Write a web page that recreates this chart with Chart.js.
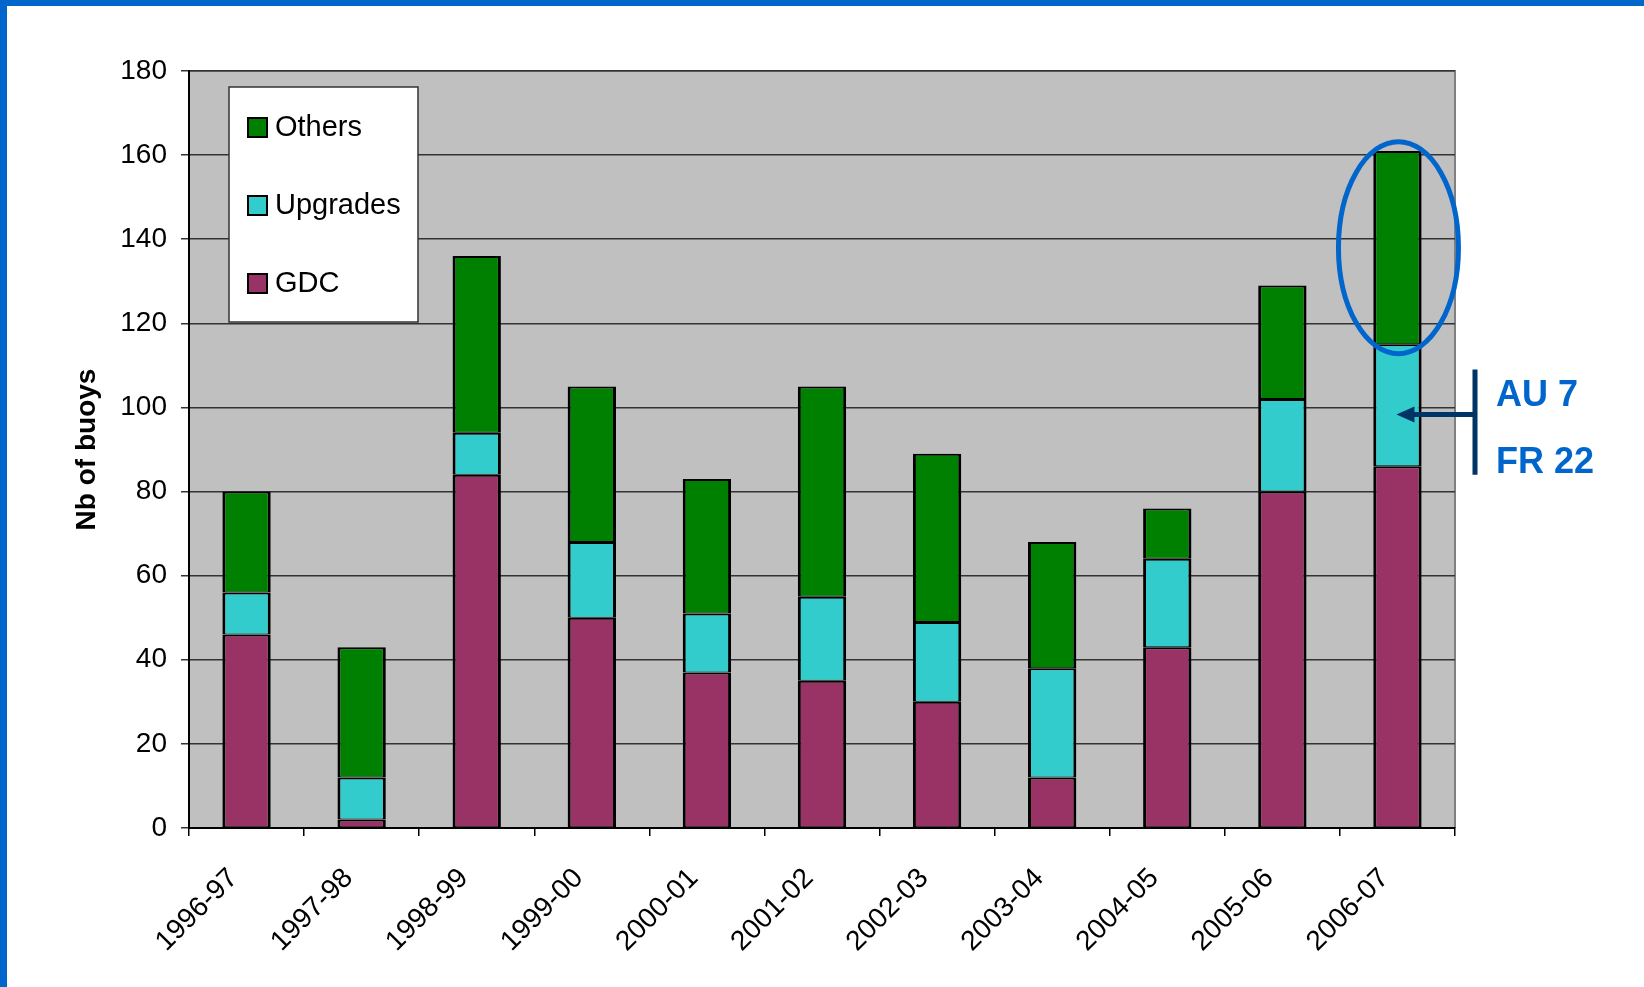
<!DOCTYPE html>
<html>
<head>
<meta charset="utf-8">
<title>Nb of buoys</title>
<script src="https://cdn.jsdelivr.net/npm/chart.js@4.4.1/dist/chart.umd.min.js"></script>
<style>
  html, body { margin: 0; padding: 0; background: #fff; }
  #wrap { position: relative; width: 1644px; height: 987px; overflow: hidden; }
  #wrap canvas { position: absolute; left: 0; top: 0; }
  .edge { position: absolute; background: #0066cc; z-index: 2; }
  #edgeTop { left: 0; top: 0; width: 1644px; height: 6px; }
  #edgeLeft { left: 0; top: 0; width: 7px; height: 987px; }
</style>
</head>
<body>
<div id="wrap">
  <canvas id="myChart" width="1644" height="987"></canvas>
  <div class="edge" id="edgeTop"></div>
  <div class="edge" id="edgeLeft"></div>
</div>
<script>
// Seasons on the x axis
var seasons = ['1996-97', '1997-98', '1998-99', '1999-00', '2000-01', '2001-02',
  '2002-03', '2003-04', '2004-05', '2005-06', '2006-07'];

// Buoys per season, stacked bottom to top
var gdc      = [46, 2, 84, 50, 37, 35, 30, 12, 43, 80, 86];
var upgrades = [10, 10, 10, 18, 14, 20, 19, 26, 21, 22, 29];
var others   = [24, 31, 42, 37, 32, 50, 40, 30, 12, 27, 46];

// Upgrades split for the last season
var upgradeNotes = ['AU 7', 'FR 22'];

var yTicks = { min: 0, max: 180, step: 20 };

var fontFamily = '"Liberation Sans", Arial, sans-serif';

// grey plot area with a grey frame on the top and right
var plotBackground = {
  id: 'plotBackground',
  beforeDraw: function (chart) {
    var a = chart.chartArea, ctx = chart.ctx;
    ctx.save();
    ctx.fillStyle = '#c0c0c0';
    ctx.fillRect(a.left, a.top, a.right - a.left, a.bottom - a.top);
    ctx.strokeStyle = '#808080';
    ctx.lineWidth = 2;
    ctx.beginPath();
    ctx.moveTo(a.left, a.top);
    ctx.lineTo(a.right, a.top);
    ctx.lineTo(a.right, a.bottom);
    ctx.stroke();
    ctx.restore();
  }
};

// legend box inside the plot, top series first
var boxLegend = {
  id: 'boxLegend',
  afterDatasetsDraw: function (chart) {
    var a = chart.chartArea, ctx = chart.ctx;
    var x = a.left + 40, y = a.top + 16, w = 189, h = 235;
    ctx.save();
    ctx.fillStyle = '#fff';
    ctx.fillRect(x, y, w, h);
    ctx.strokeStyle = '#333';
    ctx.lineWidth = 1.5;
    ctx.strokeRect(x, y, w, h);
    var sets = chart.data.datasets.slice().reverse();
    ctx.font = '29px ' + fontFamily;
    ctx.textBaseline = 'middle';
    ctx.textAlign = 'left';
    sets.forEach(function (ds, i) {
      var cy = y + 40 + i * 78;
      ctx.fillStyle = ds.backgroundColor;
      ctx.fillRect(x + 19, cy - 9, 19, 19);
      ctx.strokeStyle = '#000';
      ctx.lineWidth = 2;
      ctx.strokeRect(x + 19, cy - 9, 19, 19);
      ctx.fillStyle = '#000';
      ctx.fillText(ds.label, x + 46, cy + 1);
    });
    ctx.restore();
  }
};

// ellipse round the last "Others" block and the upgrade split on the right
var lastSeasonNote = {
  id: 'lastSeasonNote',
  afterDatasetsDraw: function (chart) {
    var ctx = chart.ctx, a = chart.chartArea, yScale = chart.scales.y;
    var last = seasons.length - 1;
    var top = chart.getDatasetMeta(2).data[last];
    var mid = chart.getDatasetMeta(1).data[last];
    ctx.save();
    ctx.strokeStyle = '#0066cc';
    ctx.lineWidth = 5;
    ctx.beginPath();
    ctx.ellipse(top.x + 1, (top.y + top.base) / 2, 60, 106, 0, 0, Math.PI * 2);
    ctx.stroke();

    var bx = a.right + 20;
    var y1 = yScale.getPixelForValue(109), y2 = yScale.getPixelForValue(84);
    var ay = yScale.getPixelForValue(98.3);
    ctx.strokeStyle = '#003366';
    ctx.fillStyle = '#003366';
    ctx.lineWidth = 5;
    ctx.beginPath();
    ctx.moveTo(bx, y1);
    ctx.lineTo(bx, y2);
    ctx.moveTo(bx, ay);
    ctx.lineTo(mid.x + 14, ay);
    ctx.stroke();
    ctx.beginPath();
    ctx.moveTo(mid.x - 1, ay);
    ctx.lineTo(mid.x + 17, ay - 8);
    ctx.lineTo(mid.x + 17, ay + 8);
    ctx.closePath();
    ctx.fill();

    ctx.fillStyle = '#0066cc';
    ctx.font = 'bold 36px ' + fontFamily;
    ctx.textAlign = 'left';
    ctx.textBaseline = 'alphabetic';
    ctx.fillText(upgradeNotes[0], bx + 21, y1 + 36);
    ctx.fillText(upgradeNotes[1], bx + 21, y1 + 103);
    ctx.restore();
  }
};

var ctx = document.getElementById('myChart').getContext('2d');

var myChart = new Chart(ctx, {
  type: 'bar',
  data: {
    labels: seasons,
    datasets: [
      { label: 'GDC', data: gdc, backgroundColor: '#993366' },
      { label: 'Upgrades', data: upgrades, backgroundColor: '#33cccc' },
      { label: 'Others', data: others, backgroundColor: '#008000' }
    ].map(function (ds) {
      ds.borderColor = '#000';
      ds.borderWidth = { left: 3, right: 3, top: 2, bottom: 1 };
      ds.borderSkipped = false;
      ds.categoryPercentage = 1;
      ds.barPercentage = 0.42;
      return ds;
    })
  },
  options: {
    responsive: false,
    animation: false,
    layout: { padding: { left: 0, top: 71, right: 189, bottom: 0 } },
    plugins: {
      legend: { display: false },
      tooltip: { enabled: false }
    },
    scales: {
      x: {
        stacked: true,
        grid: { drawOnChartArea: false, drawTicks: true, tickLength: 8, color: '#000', lineWidth: 1.5 },
        border: { display: true, color: '#000', width: 2 },
        ticks: {
          color: '#000',
          font: { family: fontFamily, size: 28 },
          maxRotation: 45,
          minRotation: 45,
          autoSkip: false,
          padding: 26,
          labelOffset: -13
        },
        afterFit: function (scale) { scale.height = 159; }
      },
      y: {
        stacked: true,
        min: yTicks.min,
        max: yTicks.max,
        grid: { color: '#333', lineWidth: 1.5, drawTicks: true, tickLength: 8 },
        border: { display: true, color: '#000', width: 2 },
        ticks: {
          stepSize: yTicks.step,
          color: '#000',
          font: { family: fontFamily, size: 28 },
          padding: 14
        },
        title: {
          display: true,
          text: 'Nb of buoys',
          color: '#000',
          font: { family: fontFamily, size: 28, weight: 'bold' },
          padding: { top: 70, bottom: 0 }
        },
        afterFit: function (scale) { scale.width = 189; }
      }
    }
  },
  plugins: [plotBackground, boxLegend, lastSeasonNote]
});
</script>
</body>
</html>
